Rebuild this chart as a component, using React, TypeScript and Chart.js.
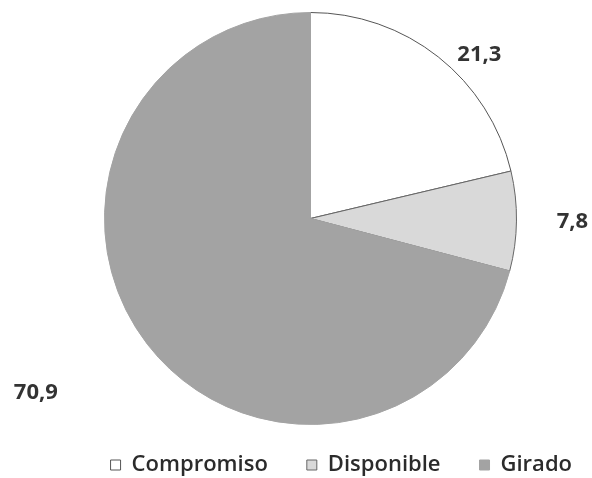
import React, { useEffect, useRef } from "react";
import { Chart, registerables } from "chart.js";

Chart.register(...registerables);

const categories = ["Compromiso", "Disponible", "Girado"];
const values = [21.3, 7.8, 70.9];
const valueLabels = ["21,3", "7,8", "70,9"];
const sliceColors = ["#ffffff", "#d9d9d9", "#a3a3a3"];
const sliceBorders = ["#555555", "#666666", "#a3a3a3"];
// label placement relative to each slice's mid-angle: [angle shift in degrees, extra radius px]
const labelShiftDeg = [7.6, 0, 5.3];
const labelExtraRadius = [29, 56, 119];

const valueLabelPlugin = {
  id: "valueLabels",
  afterDatasetsDraw(chart: any) {
    const meta = chart.getDatasetMeta(0);
    const ctx = chart.ctx;
    ctx.save();
    ctx.font = "bold 22px 'Open Sans'";
    ctx.fillStyle = "#333333";
    ctx.textAlign = "center";
    ctx.textBaseline = "middle";
    meta.data.forEach((arc: any, i: number) => {
      const p = arc.getProps(["x", "y", "startAngle", "endAngle", "outerRadius"], true);
      const mid = (p.startAngle + p.endAngle) / 2 + (labelShiftDeg[i] * Math.PI) / 180;
      const r = p.outerRadius + labelExtraRadius[i];
      ctx.fillText(valueLabels[i], p.x + Math.cos(mid) * r, p.y + Math.sin(mid) * r);
    });
    ctx.restore();
  },
};

const legendFitPlugin = {
  id: "legendFit",
  beforeUpdate(chart: any) {
    const legend = chart.legend;
    if (legend && !legend._patched) {
      const orig = legend.fit;
      legend.fit = function () {
        orig.call(this);
        this.height -= 8;
      };
      legend._patched = true;
    }
  },
};

export default function App() {
  const ref = useRef<HTMLCanvasElement | null>(null);
  useEffect(() => {
    document.body.style.margin = "0";
    const chart = new Chart(ref.current!, {
      type: "pie",
      data: {
        labels: categories,
        datasets: [
          {
            data: values,
            backgroundColor: sliceColors,
            borderColor: sliceBorders,
            borderWidth: 1,
            radius: 206,
          },
        ],
      },
      options: {
        responsive: false,
        animation: false,
        layout: { padding: { top: 22, left: 29, right: -19, bottom: 0 } },
        plugins: {
          tooltip: { enabled: false },
          legend: {
            position: "bottom",
            align: "end",
            labels: {
              boxWidth: 10,
              boxHeight: 10,
              padding: 39,
              color: "#2b2b2b",
              font: { family: "'Open Sans'", size: 22, weight: 600 },
            },
          },
        },
      },
      plugins: [legendFitPlugin, valueLabelPlugin],
    });
    return () => chart.destroy();
  }, []);
  return (
    <div style={{ width: 592, height: 478, background: "#fff" }}>
      <canvas ref={ref} width={592} height={478} />
    </div>
  );
}
